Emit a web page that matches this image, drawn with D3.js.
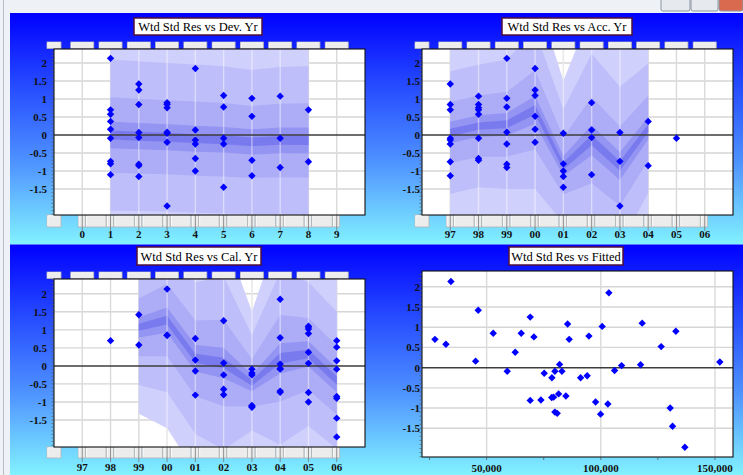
<!DOCTYPE html>
<html><head><meta charset="utf-8">
<script src="https://cdn.jsdelivr.net/npm/d3@7"></script>
<style>body{margin:0;background:#fff;overflow:hidden} svg{display:block}</style>
</head><body>
<svg id="c" width="743" height="475"></svg>
<script>
// ---------------- data ----------------
const yearLabels = ["97","98","99","00","01","02","03","04","05","06"];
const devLabels  = ["0","1","2","3","4","5","6","7","8","9"];
const yTickValues = [2,1.5,1,0.5,0,-0.5,-1,-1.5];
const yTickLabels = ["2","1.5","1","0.5","0","-0.5","-1","-1.5"];
const fittedTickValues = [50000,100000,150000];
const fittedTickLabels = ["50,000","100,000","150,000"];
const titles = ["Wtd Std Res vs Dev. Yr","Wtd Std Res vs Acc. Yr","Wtd Std Res vs Cal. Yr","Wtd Std Res vs Fitted"];

// weighted standardised residuals, one row per accident year (97..05), dev years 1..n
const residuals = [
  [0.70, 1.42, 0.85,-0.14,-0.25,-1.13,-0.09,-0.74],
  [0.58, 0.85, 0.76,-0.65,-0.09,-0.70, 1.08, 0.70],
  [2.13,-0.81, 0.08,-0.25, 0.78, 1.02,-0.90],
  [0.16, 1.25,-0.20, 1.85, 1.10, 0.52],
  [-0.80,-1.15,0.05,-1.00,-1.45],
  [-1.10,-0.07,0.90, 0.14],
  [-0.73, 0.07,-1.97],
  [0.38,-0.85],
  [-0.09]
];
// fitted values for the same cells
const fitted = [
  [27370,46320,52890,75220,78590,80910,79900,78500],
  [32180,65150,70710,81520,82970,84720,85460,86160],
  [34370,69090,81960,91150,94790,100610,103100],
  [45180,69090,94040,103540,118120,126440],
  [73770,99910,109100,130380,131430],
  [79900,106040,132880,152140],
  [79330,117420,136820],
  [62520,97720],
  [59020]
];

// fan bands: centre and spread per position, band widths in spreads
const bandLevels = [3, 2, 1, 0.35, 0.12];
const bandColors = ["#d0d0fc","#bebefa","#acacf7","#9494f3","#7a7aef"];
const devBandX   = [1,2,3,4,5,6,7,8];
const devCenter  = [0.00,-0.03,-0.06,-0.10,-0.13,-0.19,-0.15,-0.15];
const devSpread  = [1.05,1.04,1.03,1.03,1.02,1.00,1.02,1.03];
const accBandX   = [0,1,2,3,4,5,6,7];
const accCenter  = [0.07,0.25,0.30,0.70,-0.86,-0.14,-0.86,0.19];
const accSpread  = [0.85,0.85,0.90,1.10,0.79,1.20,1.10,0.90];
const calBandX   = [2,3,4,5,6,7,8,9];
const calCenter  = [1.07,1.27,0.21,0.08,-0.47,0.21,0.33,-0.40];
const calSpread  = [0.80,1.00,1.05,1.20,0.66,1.20,1.00,0.95];

// ---------------- drawing ----------------
const svg = d3.select("#c");
const defs = svg.append("defs");
const grad = defs.append("linearGradient").attr("id","bg").attr("x1",0).attr("y1",0).attr("x2",0).attr("y2",1);
[[0,"#0000ff"],[0.3,"#2448ff"],[0.65,"#4f94ff"],[1,"#82f2ff"]].forEach(s=>grad.append("stop").attr("offset",s[0]).attr("stop-color",s[1]));

// window chrome
svg.append("rect").attr("x",0).attr("y",0).attr("width",743).attr("height",475).attr("fill","#eef1f5");
svg.append("line").attr("x1",3.5).attr("x2",3.5).attr("y1",0).attr("y2",475).attr("stroke","#b8bcc4");
[[661,690,"#e6e9ee"],[691,718,"#e6e9ee"],[719,743,"#d9694f"]].forEach(b=>{
  svg.append("rect").attr("x",b[0]).attr("y",-3).attr("width",b[1]-b[0]).attr("height",14).attr("rx",2)
    .attr("fill",b[2]).attr("stroke","#8d96a3");
});
svg.append("rect").attr("x",10).attr("y",13).attr("width",733).attr("height",231.5).attr("fill","url(#bg)");
svg.append("rect").attr("x",10).attr("y",244.5).attr("width",733).attr("height",230.5).attr("fill","url(#bg)");

function button(g,x0,x1,y0,y1){
  g.append("rect").attr("x",x0).attr("y",y0).attr("width",x1-x0).attr("height",y1-y0)
   .attr("fill","#ececec").attr("stroke","#b4b4b4").attr("stroke-width",0.8);
  g.append("path").attr("d",`M${x0+0.8},${y1-0.8}V${y0+0.8}H${x1-0.8}`).attr("fill","none").attr("stroke","#fff").attr("stroke-width",0.8);
}

function titleBox(box,text){
  svg.append("rect").attr("x",box.x).attr("y",box.y).attr("width",box.w).attr("height",box.h)
    .attr("fill","#fff").attr("stroke","#501038").attr("stroke-width",1.5);
  svg.append("text").attr("x",box.x+box.w/2).attr("y",box.y+box.h/2+4.5).attr("text-anchor","middle")
    .attr("font-family","'Liberation Serif','Times New Roman',serif").attr("font-size",12.5).attr("fill","#000").text(text);
}

const diamond = r => `M0,${-r}L${r},0L0,${r}L${-r},0Z`;
let clipId = 0;

function yAxis(g,p,y,labelRight){
  // minor ticks
  d3.range(Math.ceil(y.domain()[0]*10), Math.floor(y.domain()[1]*10)+1).forEach(v=>{
    g.append("line").attr("x1",p.l-2.5).attr("x2",p.l).attr("y1",y(v/10)).attr("y2",y(v/10))
      .attr("stroke","#555").attr("stroke-width",0.7);
  });
  yTickValues.forEach((v,i)=>{
    g.append("text").attr("x",labelRight).attr("y",y(v)+4).attr("text-anchor","end")
      .attr("font-family","'Liberation Serif','Times New Roman',serif").attr("font-weight","bold")
      .attr("font-size",11).attr("fill","#111").text(yTickLabels[i]);
  });
}

function bandPanel(cfg){
  const p = cfg.plot;
  const g = svg.append("g");
  const x = d3.scaleLinear().domain([-1,10]).range([p.l,p.r]);
  const y = d3.scaleLinear().domain(cfg.yDomain).range([p.b,p.t]);
  titleBox(cfg.title,cfg.titleText);
  // button rows
  button(g,p.l-7,p.l+7,cfg.topBtn[0],cfg.topBtn[1]);
  d3.range(10).forEach(i=>button(g,x(i)-11.5,x(i)+11.5,cfg.topBtn[0],cfg.topBtn[1]));
  button(g,p.l-7,p.l+7,cfg.botBtn[0],cfg.botBtn[1]);
  d3.range(10).forEach(i=>{
    button(g,x(i)-4,x(i)+3,cfg.botBtn[0],cfg.botBtn[1]);
    if(i<9) button(g,x(i)+3.5,x(i+1)-4.5,cfg.botBtn[0],cfg.botBtn[1]);
    g.append("line").attr("x1",x(i)).attr("x2",x(i)).attr("y1",cfg.botBtn[0]).attr("y2",cfg.botBtn[1]+4)
      .attr("stroke","#777").attr("stroke-width",0.8);
  });
  // plot area
  const id = "clip"+(clipId++);
  defs.append("clipPath").attr("id",id).append("rect").attr("x",p.l).attr("y",p.t).attr("width",p.r-p.l).attr("height",p.b-p.t);
  g.append("rect").attr("x",p.l).attr("y",p.t).attr("width",p.r-p.l).attr("height",p.b-p.t).attr("fill","#fff");
  const pg = g.append("g").attr("clip-path",`url(#${id})`);
  yTickValues.filter(v=>v!==0).forEach(v=>pg.append("line").attr("x1",p.l).attr("x2",p.r).attr("y1",y(v)).attr("y2",y(v))
      .attr("stroke","#d6d6d6").attr("stroke-width",1.4));
  d3.range(10).forEach(i=>pg.append("line").attr("x1",x(i)).attr("x2",x(i)).attr("y1",p.t).attr("y2",p.b)
      .attr("stroke","#dadada").attr("stroke-width",1.4));
  // bands
  const idx = d3.range(cfg.bandX.length);
  bandLevels.forEach((k,li)=>{
    const area = d3.area().x(i=>x(cfg.bandX[i])).y0(i=>y(cfg.center[i]-k*cfg.spread[i])).y1(i=>y(cfg.center[i]+k*cfg.spread[i]));
    pg.append("path").attr("d",area(idx)).attr("fill",bandColors[li]);
  });
  // light verticals inside the fan
  cfg.bandX.slice(1,-1).forEach(v=>pg.append("line").attr("x1",x(v)).attr("x2",x(v)).attr("y1",p.t).attr("y2",p.b)
      .attr("stroke","#ffffff").attr("stroke-opacity",0.45).attr("stroke-width",1.4));
  pg.append("line").attr("x1",p.l).attr("x2",p.r).attr("y1",y(0)).attr("y2",y(0)).attr("stroke","#3c3c3c").attr("stroke-width",1.5);
  pg.selectAll("path.pt").data(cfg.points).join("path").attr("class","pt")
    .attr("d",diamond(3.7)).attr("transform",d=>`translate(${x(d[0])},${y(d[1])})`).attr("fill","#0000ff");
  g.append("rect").attr("x",p.l).attr("y",p.t).attr("width",p.r-p.l).attr("height",p.b-p.t)
    .attr("fill","none").attr("stroke","#111").attr("stroke-width",1.1);
  yAxis(g,p,y,cfg.labelRight);
  cfg.labels.forEach((t,i)=>g.append("text").attr("x",x(i)).attr("y",cfg.labelY).attr("text-anchor","middle")
      .attr("font-family","'Liberation Serif','Times New Roman',serif").attr("font-weight","bold")
      .attr("font-size",11).attr("fill","#111").text(t));
}

// points per panel
const devPts = [], accPts = [], calPts = [], fitPts = [];
residuals.forEach((row,a)=>row.forEach((r,j)=>{
  const d = j+1;
  devPts.push([d,r]); accPts.push([a,r]); calPts.push([a+d,r]); fitPts.push([fitted[a][j],r]);
}));

bandPanel({plot:{l:54,t:49,r:365,b:215}, yDomain:[-2.22,2.39], topBtn:[42,48.5], botBtn:[215,227],
  title:{x:134,y:18,w:128,h:17}, titleText:titles[0], labels:devLabels, labelY:238, labelRight:47,
  bandX:devBandX, center:devCenter, spread:devSpread, points:devPts});
bandPanel({plot:{l:422,t:49,r:733,b:215}, yDomain:[-2.22,2.39], topBtn:[42,48.5], botBtn:[215,227],
  title:{x:502,y:18,w:130,h:17}, titleText:titles[1], labels:yearLabels, labelY:238, labelRight:420,
  bandX:accBandX, center:accCenter, spread:accSpread, points:accPts});
bandPanel({plot:{l:54,t:279,r:365,b:447}, yDomain:[-2.25,2.41], topBtn:[272,278.5], botBtn:[447,458],
  title:{x:137,y:247,w:124,h:18}, titleText:titles[2], labels:yearLabels, labelY:471, labelRight:47,
  bandX:calBandX, center:calCenter, spread:calSpread, points:calPts});

// fitted panel
(function(){
  const p = {l:422,t:271,r:733,b:457};
  const g = svg.append("g");
  const x = d3.scaleLinear().domain([21700,157900]).range([p.l,p.r]);
  const y = d3.scaleLinear().domain([-2.21,2.39]).range([p.b,p.t]);
  titleBox({x:509,y:247,w:114,h:18},titles[3]);
  g.append("rect").attr("x",p.l).attr("y",p.t).attr("width",p.r-p.l).attr("height",p.b-p.t).attr("fill","#fff");
  yTickValues.filter(v=>v!==0).forEach(v=>g.append("line").attr("x1",p.l).attr("x2",p.r).attr("y1",y(v)).attr("y2",y(v))
      .attr("stroke","#d6d6d6").attr("stroke-width",1.4));
  fittedTickValues.forEach(v=>g.append("line").attr("x1",x(v)).attr("x2",x(v)).attr("y1",p.t).attr("y2",p.b)
      .attr("stroke","#dadada").attr("stroke-width",1.4));
  g.append("line").attr("x1",p.l).attr("x2",p.r).attr("y1",y(0)).attr("y2",y(0)).attr("stroke","#3c3c3c").attr("stroke-width",1.5);
  g.selectAll("path.pt").data(fitPts).join("path").attr("class","pt")
    .attr("d",diamond(3.7)).attr("transform",d=>`translate(${x(d[0])},${y(d[1])})`).attr("fill","#0000ff");
  g.append("rect").attr("x",p.l).attr("y",p.t).attr("width",p.r-p.l).attr("height",p.b-p.t)
    .attr("fill","none").attr("stroke","#111").attr("stroke-width",1.1);
  d3.range(25000,157900,25000).forEach(v=>g.append("line").attr("x1",x(v)).attr("x2",x(v)).attr("y1",p.b).attr("y2",p.b+3)
      .attr("stroke","#555").attr("stroke-width",0.8));
  yAxis(g,p,y,420);
  fittedTickValues.forEach((v,i)=>g.append("text").attr("x",x(v)).attr("y",472).attr("text-anchor","middle")
      .attr("font-family","'Liberation Serif','Times New Roman',serif").attr("font-weight","bold")
      .attr("font-size",11).attr("fill","#111").text(fittedTickLabels[i]));
})();
</script>
</body></html>
